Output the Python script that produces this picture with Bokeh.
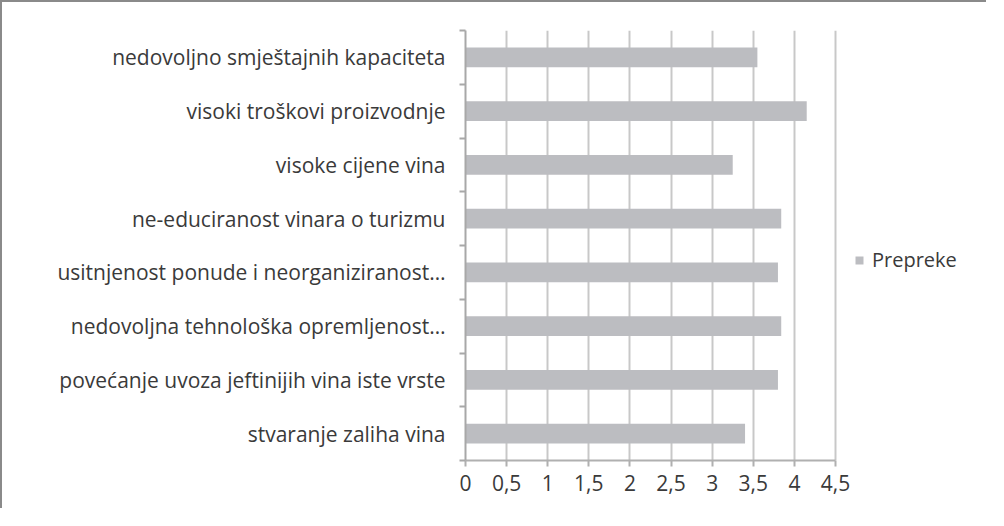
from bokeh.plotting import figure
from bokeh.models import (ColumnDataSource, FixedTicker, Legend, LegendItem, Range1d)
from bokeh.embed import file_html
from bokeh.resources import INLINE

# Data (top to bottom as shown)
categories = [
    "nedovoljno smještajnih kapaciteta",
    "visoki troškovi proizvodnje",
    "visoke cijene vina",
    "ne-educiranost vinara o turizmu",
    "usitnjenost ponude i neorganiziranost…",
    "nedovoljna tehnološka opremljenost…",
    "povećanje uvoza jeftinijih vina iste vrste",
    "stvaranje zaliha vina",
]
values = [3.55, 4.15, 3.25, 3.84, 3.8, 3.84, 3.8, 3.4]
series_name = "Prepreke"
x_ticks = [0, 0.5, 1, 1.5, 2, 2.5, 3, 3.5, 4, 4.5]
x_tick_labels = ["0", "0,5", "1", "1,5", "2", "2,5", "3", "3,5", "4", "4,5"]

n = len(categories)
ypos = [n - i - 0.5 for i in range(n)]
src = ColumnDataSource(dict(y=ypos, v=values, cat=categories))

FONT = "Open Sans"
TXT = "#3a3a3a"
FS = "21px"

AXIS_MAX = 4.5
FRAME_W = 512          # frame extends right so the legend can sit inside it
AXIS_PX = 370          # pixel length of 0..4.5
x_end = AXIS_MAX * FRAME_W / AXIS_PX

p = figure(width=986, height=508, output_backend="svg", toolbar_location=None,
           x_range=Range1d(0, x_end), y_range=Range1d(0, n),
           min_border_left=463, min_border_right=11, min_border_top=28,
           min_border_bottom=50,
           styles={"border-top": "2px solid #8a8a8a", "border-left": "2px solid #8a8a8a"})
p.outline_line_color = None
p.background_fill_color = "white"

r = p.hbar(y="y", right="v", left=0, height=0.37, source=src,
           fill_color="#bcbdc1", line_color=None)

# x axis
p.xaxis.ticker = FixedTicker(ticks=x_ticks)
p.xaxis.bounds = (0, AXIS_MAX)
p.xaxis.major_label_overrides = {t: l for t, l in zip(x_ticks, x_tick_labels)}
p.xaxis.axis_line_color = "#b0b0b0"
p.xaxis.axis_line_width = 2
p.xaxis.major_tick_line_color = "#b0b0b0"
p.xaxis.major_tick_line_width = 2
p.xaxis.major_tick_out = 6
p.xaxis.major_tick_in = 0
p.xaxis.minor_tick_line_color = None
p.xaxis.major_label_standoff = 8
p.xaxis.major_label_text_font = FONT
p.xaxis.major_label_text_font_size = FS
p.xaxis.major_label_text_color = TXT

# y axis: labels at category centres, ticks at boundaries
p.yaxis.ticker = FixedTicker(ticks=ypos, minor_ticks=list(range(n + 1)))
p.yaxis.major_label_overrides = {y: c for y, c in zip(ypos, categories)}
p.yaxis.axis_line_color = "#a8a8a8"
p.yaxis.axis_line_width = 2
p.yaxis.major_tick_line_color = None
p.yaxis.minor_tick_line_color = "#a8a8a8"
p.yaxis.minor_tick_line_width = 2
p.yaxis.minor_tick_out = 6
p.yaxis.minor_tick_in = 0
p.yaxis.major_label_standoff = 14
p.yaxis.major_label_text_font = FONT
p.yaxis.major_label_text_font_size = FS
p.yaxis.major_label_text_color = TXT

p.xgrid.ticker = FixedTicker(ticks=x_ticks)
p.xgrid.grid_line_color = "#c8c8c8"
p.xgrid.grid_line_width = 2
p.ygrid.grid_line_color = None

legend = Legend(items=[LegendItem(label=series_name, renderers=[r])],
                location=(389, 187), orientation="vertical",
                glyph_width=10, glyph_height=10, padding=0, margin=0, spacing=0,
                label_standoff=8, border_line_color=None, background_fill_alpha=0,
                label_text_font=FONT, label_text_font_size="20px",
                label_text_color=TXT)
p.add_layout(legend, "center")

open("out.html", "w").write(file_html(p, INLINE))
